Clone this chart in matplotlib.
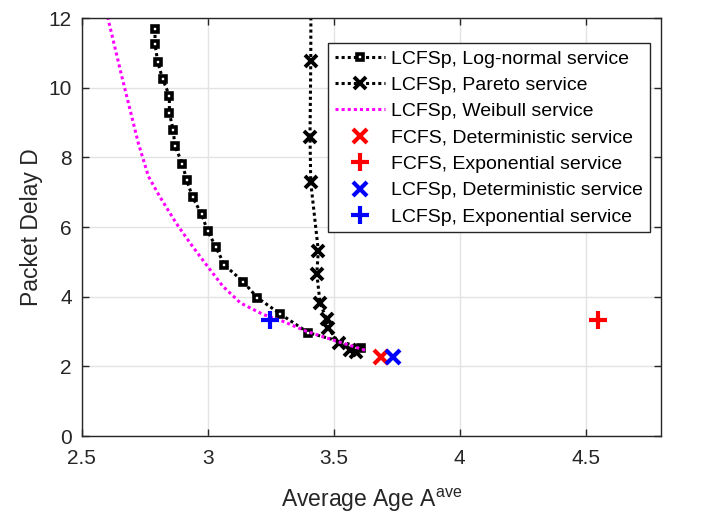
import matplotlib
matplotlib.use('Agg')
import matplotlib.pyplot as plt

plt.rcParams['font.family'] = ['Liberation Sans', 'DejaVu Sans']
plt.rcParams['mathtext.fontset'] = 'custom'
plt.rcParams['mathtext.rm'] = 'Liberation Sans'

# LCFSp, log-normal service
lognorm_age = [2.791, 2.791, 2.802, 2.821, 2.848, 2.848, 2.863, 2.870, 2.899, 2.917,
               2.940, 2.976, 3.000, 3.033, 3.066, 3.141, 3.197, 3.287, 3.398, 3.610]
lognorm_delay = [11.69, 11.24, 10.73, 10.25, 9.77, 9.27, 8.79, 8.33, 7.82, 7.34,
                 6.86, 6.36, 5.88, 5.42, 4.91, 4.43, 3.97, 3.51, 2.97, 2.54]

# LCFSp, Pareto service
pareto_age = [3.410, 3.409, 3.406, 3.409, 3.439, 3.433, 3.446, 3.472, 3.479,
              3.522, 3.565, 3.588]
pareto_delay = [13.5, 10.76, 8.58, 7.28, 5.32, 4.66, 3.81, 3.35, 3.09,
                2.66, 2.47, 2.42]

# LCFSp, Weibull service
weibull_age = [2.585, 2.604, 2.66, 2.725, 2.765, 2.81, 2.875, 2.94, 3.01, 3.06,
               3.13, 3.22, 3.30, 3.39, 3.50, 3.63]
weibull_delay = [12.6, 12.0, 10.3, 8.4, 7.45, 6.87, 6.11, 5.44, 4.77, 4.3,
                 3.82, 3.49, 3.29, 3.01, 2.75, 2.45]

# single points
fcfs_det = (3.686, 2.27)
fcfs_exp = (4.55, 3.33)
lcfs_det = (3.737, 2.27)
lcfs_exp = (3.247, 3.32)

fig = plt.figure(figsize=(7.06, 5.19), dpi=100)
ax = fig.add_axes([0.1157, 0.1599, 0.8210, 0.8054])

ax.plot(lognorm_age, lognorm_delay, color='black', linestyle=(0, (1, 1)), lw=2.2,
        marker='s', markersize=5, markeredgewidth=2.6, markerfacecolor='white',
        markeredgecolor='black', label='LCFSp, Log-normal service')
ax.plot(pareto_age, pareto_delay, color='black', linestyle=(0, (1, 1)), lw=2.2,
        marker='x', markersize=8, markeredgewidth=2.8,
        label='LCFSp, Pareto service')
ax.plot(weibull_age, weibull_delay, color='magenta', linestyle=(0, (1, 1)), lw=2.2,
        label='LCFSp, Weibull service')
ax.plot([fcfs_det[0]], [fcfs_det[1]], linestyle='none', marker='x', color='red',
        markersize=10, markeredgewidth=3, label='FCFS, Deterministic service')
ax.plot([fcfs_exp[0]], [fcfs_exp[1]], linestyle='none', marker='+', color='red',
        markersize=13, markeredgewidth=3, label='FCFS, Exponential service')
ax.plot([lcfs_det[0]], [lcfs_det[1]], linestyle='none', marker='x', color='blue',
        markersize=10, markeredgewidth=3, label='LCFSp, Deterministic service')
ax.plot([lcfs_exp[0]], [lcfs_exp[1]], linestyle='none', marker='+', color='blue',
        markersize=13, markeredgewidth=3, label='LCFSp, Exponential service')

ax.set_xlim(2.5, 4.8)
ax.set_ylim(0, 12)
ax.set_xticks([2.5, 3, 3.5, 4, 4.5])
ax.set_xticklabels(['2.5', '3', '3.5', '4', '4.5'])
ax.set_yticks([0, 2, 4, 6, 8, 10, 12])

ax.grid(True, color='#e3e3e3', lw=1)
ax.set_axisbelow(True)
ax.tick_params(direction='in', length=5, width=1, top=True, right=True,
               labelsize=15, colors='#262626')
ax.tick_params(axis='x', pad=9)
ax.tick_params(axis='y', pad=7)
for s in ax.spines.values():
    s.set_color('#262626')
    s.set_linewidth(1)

ax.set_xlabel('Average Age A$^{\\mathrm{ave}}$', fontsize=16.5, color='#262626', labelpad=14)
ax.set_ylabel('Packet Delay D', fontsize=16.5, color='#262626', labelpad=4)

leg = ax.legend(loc='upper right', bbox_to_anchor=(0.9805, 0.940), borderaxespad=0,
                fontsize=14, numpoints=1, handlelength=2.6, handletextpad=0.3,
                labelspacing=0.45, borderpad=0.35, fancybox=False, framealpha=1,
                edgecolor='#262626')
leg.get_frame().set_linewidth(1)

fig.savefig('out.png', dpi=100)
